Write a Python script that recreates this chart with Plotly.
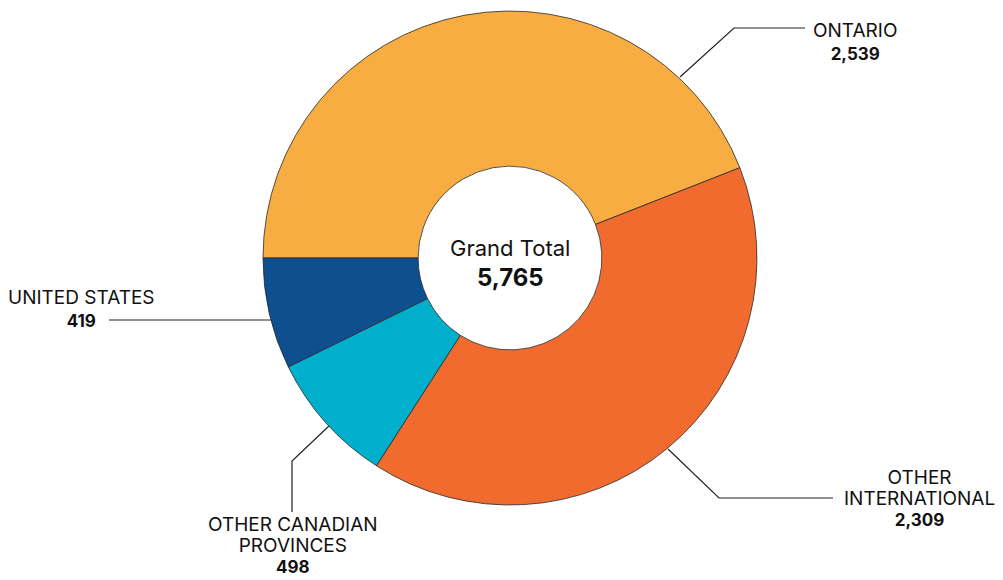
import plotly.graph_objects as go

# Student origin breakdown
regions = ["ONTARIO", "OTHER INTERNATIONAL", "OTHER CANADIAN PROVINCES", "UNITED STATES"]
counts = [2539, 2309, 498, 419]
colors = ["#F8AD42", "#F16B2E", "#00AFCB", "#0D4F8F"]

W, H = 1003, 580
FONT = "Inter"
total = sum(counts)

fig = go.Figure()
fig.add_trace(go.Pie(
    labels=regions,
    values=counts,
    sort=False,
    direction="clockwise",
    rotation=270,
    hole=0.372,
    textinfo="none",
    hoverinfo="label+value",
    marker=dict(colors=colors, line=dict(color="#2b2b2b", width=0.8)),
    domain=dict(x=[0.2622, 0.7547], y=[0.1293, 0.9810]),
    showlegend=False,
))

# Leader lines from each slice out to its label (pixel-space helper axes)
leaders = [
    [(680, 77), (734, 28), (805, 28)],
    [(668, 449), (719, 498), (833, 498)],
    [(330, 425), (292, 461), (292, 512)],
    [(272, 320), (109, 320)],
]
for pts in leaders:
    fig.add_trace(go.Scatter(
        x=[p[0] for p in pts], y=[p[1] for p in pts],
        mode="lines", line=dict(color="#222222", width=1.2),
        hoverinfo="skip", showlegend=False, xaxis="x", yaxis="y",
    ))

def fmt(v):
    return f"{v:,}"

# name rows, label centre, and base size (which sets the row spacing)
label_rows = [
    (["ONTARIO"], 855, 41, 18),
    (["OTHER", "INTERNATIONAL"], 919, 498, 16),
    (["OTHER CANADIAN", "PROVINCES"], 293, 545, 16),
    (["UNITED STATES"], 81, 308, 17.5),
]
anns = []
for (names, x, y, base), v in zip(label_rows, counts):
    rows = [f"<span style='font-size:19px'>{n}</span>" for n in names]
    rows.append(f"<span style='font-size:17px'><b>{fmt(v)}</b></span>")
    anns.append(dict(x=x, y=y, xref="x", yref="y", showarrow=False, align="center",
                     borderpad=0, text="<br>".join(rows),
                     font=dict(family=FONT, size=base, color="#111111")))

anns.append(dict(x=510, y=248, xref="x", yref="y", showarrow=False,
                 text="Grand Total", font=dict(family=FONT, size=22, color="#111111")))
anns.append(dict(x=510, y=277, xref="x", yref="y", showarrow=False,
                 text=f"<b>{fmt(total)}</b>", font=dict(family=FONT, size=24, color="#111111")))

fig.update_layout(
    width=W, height=H,
    margin=dict(l=0, r=0, t=0, b=0),
    paper_bgcolor="white", plot_bgcolor="rgba(0,0,0,0)",
    xaxis=dict(range=[0, W], visible=False, fixedrange=True, domain=[0, 1]),
    yaxis=dict(range=[H, 0], visible=False, fixedrange=True, domain=[0, 1]),
    annotations=anns,
)

fig.write_html("out.html", config={"displayModeBar": False})
